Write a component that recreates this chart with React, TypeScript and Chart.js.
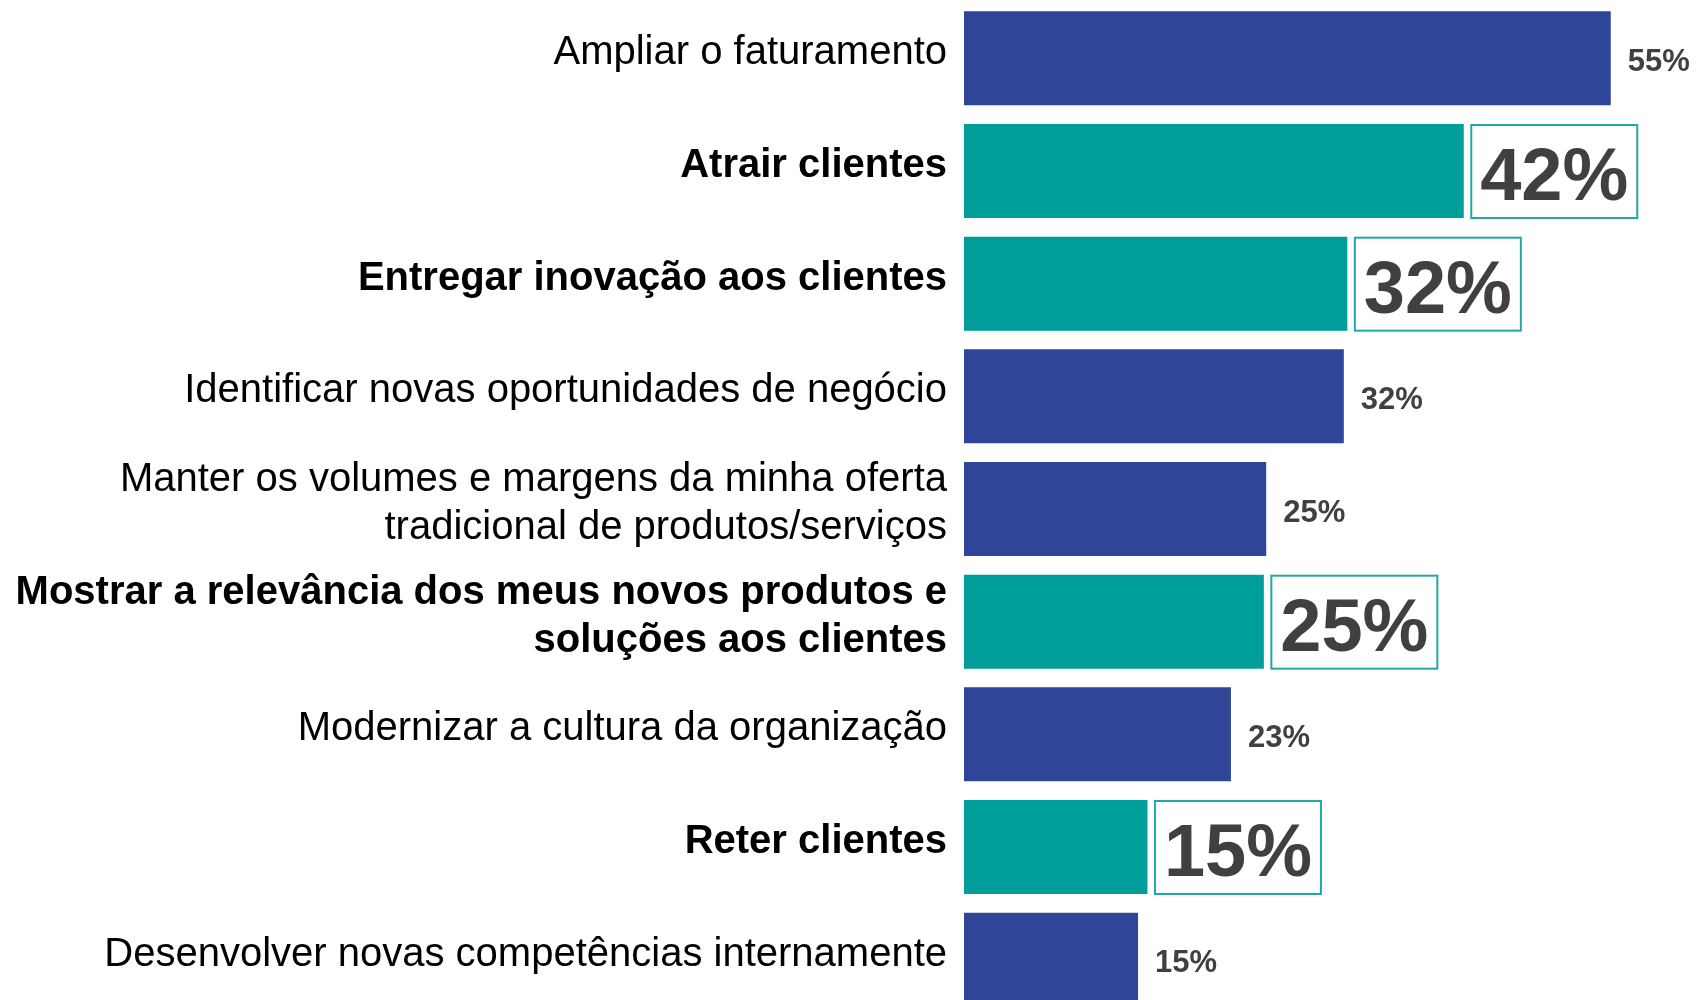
import React, { useEffect, useRef } from "react";
import { Chart, registerables } from "chart.js";

Chart.register(...registerables);

const categories: (string | string[])[] = [
  "Ampliar o faturamento",
  "Atrair clientes",
  "Entregar inovação aos clientes",
  "Identificar novas oportunidades de negócio",
  ["Manter os volumes e margens da minha oferta", "tradicional de produtos/serviços"],
  ["Mostrar a relevância dos meus novos produtos e", "soluções aos clientes"],
  "Modernizar a cultura da organização",
  "Reter clientes",
  "Desenvolver novas competências internamente",
];
const values = [55, 42.5, 32.6, 32.3, 25.7, 25.5, 22.7, 15.6, 14.8];
const valueLabels = ["55%", "42%", "32%", "32%", "25%", "25%", "23%", "15%", "15%"];
const highlighted = [false, true, true, false, false, true, false, true, false];

const BLUE = "#2F4598";
const TEAL = "#009E9A";
const BOX = "#22A8A4";
const TEXT = "#404040";
const FONT = "'Liberation Sans', Arial, sans-serif";

const valueLabelPlugin = {
  id: "valueLabels",
  afterDatasetsDraw(chart: any) {
    const ctx = chart.ctx as CanvasRenderingContext2D;
    const meta = chart.getDatasetMeta(0);
    meta.data.forEach((bar: any, i: number) => {
      const { x, y, height } = bar.getProps(["x", "y", "height"], true);
      ctx.save();
      ctx.fillStyle = TEXT;
      ctx.textBaseline = "alphabetic";
      if (highlighted[i]) {
        const bx = x + 7.5;
        const bw = 166;
        const by = y - height / 2 + 1;
        ctx.strokeStyle = BOX;
        ctx.lineWidth = 2;
        ctx.strokeRect(bx, by, bw, height - 1);
        ctx.font = `bold 74px ${FONT}`;
        ctx.textAlign = "center";
        ctx.fillText(valueLabels[i], bx + bw / 2, y + 29);
      } else {
        ctx.font = `bold 31px ${FONT}`;
        ctx.textAlign = "left";
        ctx.fillText(valueLabels[i], x + 17, y + 12.5);
      }
      ctx.restore();
    });
  },
};

export default function App() {
  const canvasRef = useRef<HTMLCanvasElement | null>(null);

  useEffect(() => {
    if (!canvasRef.current) return;
    const chart = new Chart(canvasRef.current, {
      type: "bar",
      data: {
        labels: categories as any,
        datasets: [
          {
            data: values,
            backgroundColor: highlighted.map((h) => (h ? TEAL : BLUE)),
            borderWidth: 0,
            barPercentage: 0.834,
            categoryPercentage: 1,
          },
        ],
      },
      options: {
        indexAxis: "y",
        animation: false,
        responsive: true,
        maintainAspectRatio: false,
        layout: { padding: { top: 2, right: 0, bottom: 0, left: 0 } },
        plugins: {
          legend: { display: false },
          tooltip: { enabled: false },
        },
        scales: {
          x: {
            display: false,
            min: 0,
            max: 62.25,
          },
          y: {
            offset: true,
            grid: { display: false, drawTicks: false },
            border: { display: false },
            afterFit: (s: any) => {
              s.width = 964;
              s.paddingTop = 0;
              s.paddingBottom = 0;
            },
            ticks: {
              padding: 17,
              labelOffset: -5,
              color: "#000000",
              autoSkip: false,
              font: (c: any) => ({
                family: FONT,
                size: 40,
                weight: highlighted[c.index] ? "bold" : "normal",
                lineHeight: 1.2,
              }),
            },
          },
        },
      },
      plugins: [valueLabelPlugin],
    });
    return () => chart.destroy();
  }, []);

  return (
    <div
      style={{
        position: "fixed",
        left: 0,
        top: 0,
        width: 1696,
        height: 1000,
        overflow: "hidden",
        background: "#ffffff",
      }}
    >
      <div style={{ position: "absolute", left: 0, top: 0, width: 1696, height: 1016 }}>
        <canvas ref={canvasRef} />
      </div>
    </div>
  );
}
